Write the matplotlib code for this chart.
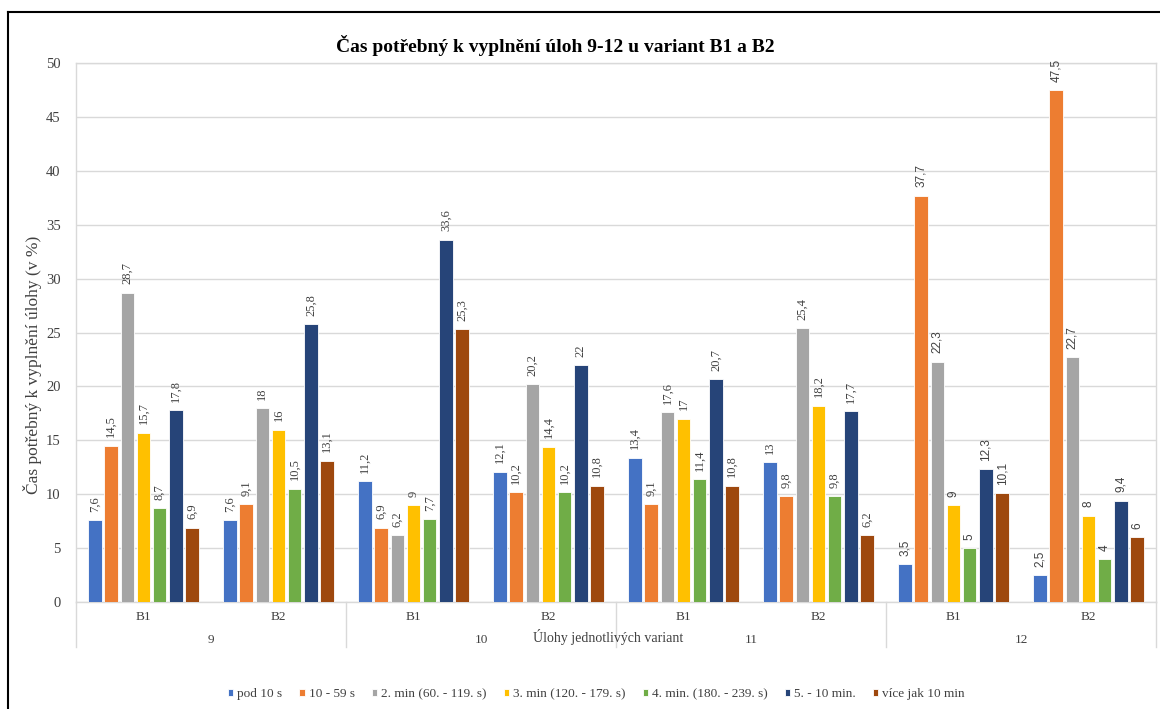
import matplotlib
matplotlib.use("Agg")
import matplotlib.pyplot as plt
import matplotlib.transforms as mtransforms
from matplotlib.lines import Line2D
import numpy as np

plt.rcParams["font.family"] = ["Liberation Serif", "DejaVu Serif"]

tasks = ["9", "10", "11", "12"]
variants = ["B1", "B2"]
series_names = [
    "pod 10 s",
    "10 - 59 s",
    "2. min (60. - 119. s)",
    "3. min (120. - 179. s)",
    "4. min. (180. - 239. s)",
    "5. - 10 min.",
    "více jak 10 min",
]
colors = ["#4472C4", "#ED7D31", "#A5A5A5", "#FFC000", "#70AD47", "#264478", "#9E480E"]

# values per series, ordered 9-B1, 9-B2, 10-B1, 10-B2, 11-B1, 11-B2, 12-B1, 12-B2
pod_10s = [7.6, 7.6, 11.2, 12.1, 13.4, 13.0, 3.5, 2.5]
s10_59 = [14.5, 9.1, 6.9, 10.2, 9.1, 9.8, 37.7, 47.5]
min2 = [28.7, 18.0, 6.2, 20.2, 17.6, 25.4, 22.3, 22.7]
min3 = [15.7, 16.0, 9.0, 14.4, 17.0, 18.2, 9.0, 8.0]
min4 = [8.7, 10.5, 7.7, 10.2, 11.4, 9.8, 5.0, 4.0]
min5_10 = [17.8, 25.8, 33.6, 22.0, 20.7, 17.7, 12.3, 9.4]
over_10 = [6.9, 13.1, 25.3, 10.8, 10.8, 6.2, 10.1, 6.0]
series = [pod_10s, s10_59, min2, min3, min4, min5_10, over_10]

fig = plt.figure(figsize=(11.6, 7.09), dpi=100)
ax = fig.add_axes([76 / 1160, 1 - 602 / 709, (1156 - 76) / 1160, (602 - 63) / 709])

n_slots = len(tasks) * len(variants)
x = np.arange(n_slots)
pitch = 0.12
width = 0.1
offsets = (np.arange(len(series)) - (len(series) - 1) / 2) * pitch

def fmt(v):
    s = f"{v:.1f}".rstrip("0").rstrip(".")
    return s.replace(".", ",")

for i, (vals, col) in enumerate(zip(series, colors)):
    xs = x + offsets[i]
    ax.bar(xs, vals, width=width, color=col, edgecolor="white", linewidth=0.6,
           label=series_names[i], zorder=3)
    for j, (xx, v) in enumerate(zip(xs, vals)):
        if j >= 6:
            fam, fs = ["Liberation Sans", "DejaVu Sans"], 8.5
        else:
            fam, fs = ["Liberation Serif", "DejaVu Serif"], 9
        ax.annotate(fmt(v), (xx, v), xytext=(0, 6), textcoords="offset points",
                    rotation=90, ha="center", va="bottom", fontsize=fs,
                    family=fam, color="#404040")

ax.set_xlim(-0.5, n_slots - 0.5)
ax.set_ylim(0, 50)
ax.set_yticks(np.arange(0, 51, 5))
ax.tick_params(axis="y", length=0, pad=11, labelsize=10.5, labelcolor="#404040")
ax.set_xticks([])
ax.yaxis.grid(True, color="#d9d9d9", linewidth=1.0, zorder=0)
for side in ["left", "right", "top", "bottom"]:
    ax.spines[side].set_color("#d9d9d9")
    ax.spines[side].set_linewidth(1.0)

# Two-level category axis below the plot
trans = mtransforms.blended_transform_factory(ax.transData, ax.transAxes)
sep_bottom = -(647 - 602) / (602 - 63)
for k in range(len(tasks) + 1):
    xs = k * len(variants) - 0.5
    ax.add_line(Line2D([xs, xs], [0, sep_bottom], transform=trans, color="#d9d9d9",
                       linewidth=1.0, clip_on=False))
for k in range(n_slots):
    ax.text(x[k], -(617 - 602) / 539, variants[k % 2], transform=trans, ha="center",
            va="center", fontsize=9.5, color="#404040")
for k, t in enumerate(tasks):
    ax.text(k * 2 + 0.5, -(640 - 602) / 539, t, transform=trans, ha="center",
            va="center", fontsize=9.5, color="#404040")

fig.text(608 / 1160, 1 - 637 / 709, "Úlohy jednotlivých variant", ha="center",
         va="center", fontsize=10, color="#404040")
fig.text(33 / 1160, 1 - 365 / 709, "Čas potřebný k vyplnění úlohy (v %)", rotation=90,
         ha="center", va="center", fontsize=12.5, color="#404040")
fig.text(555 / 1160, 1 - 46 / 709, "Čas potřebný k vyplnění úloh 9-12 u variant B1 a B2",
         ha="center", va="center", fontsize=14, fontweight="bold", color="black")

leg = fig.legend(loc="center left", bbox_to_anchor=(216 / 1160, 1 - 694 / 709), ncol=7,
                 frameon=False, fontsize=9.5, handlelength=0.4, handleheight=0.4,
                 handletextpad=0.3, columnspacing=1.3, labelcolor="#404040")

# Outer frame of the chart area
fig.add_artist(Line2D([7.5 / 1160, 7.5 / 1160], [0, 1 - 12 / 709], color="black",
                      linewidth=1.5, transform=fig.transFigure))
fig.add_artist(Line2D([7.5 / 1160, 1], [1 - 12 / 709, 1 - 12 / 709], color="black",
                      linewidth=1.5, transform=fig.transFigure))

fig.savefig("out.png", dpi=100)
